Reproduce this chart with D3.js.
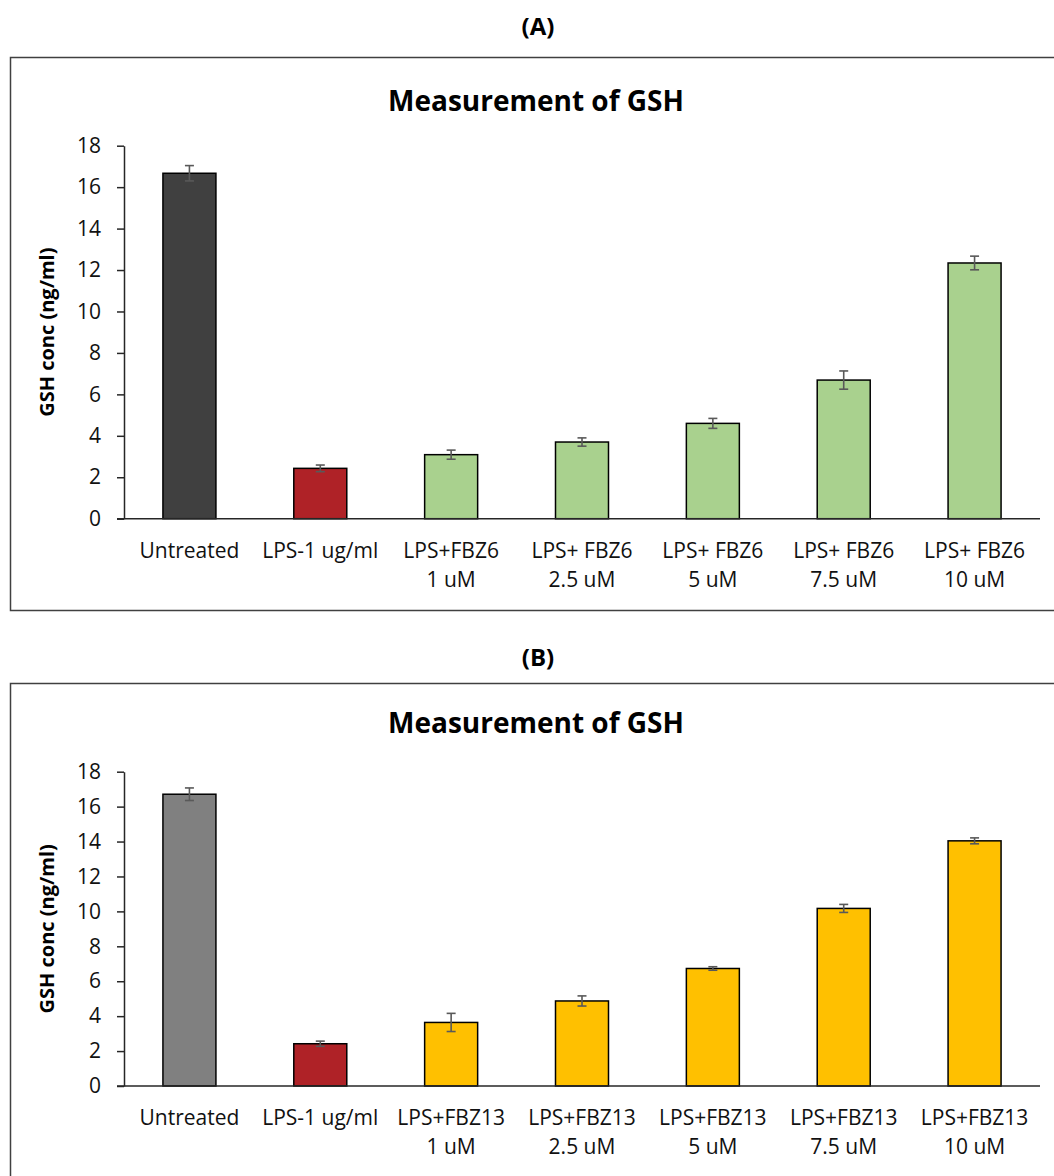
<!DOCTYPE html>
<html><head><meta charset="utf-8">
<script src="https://cdn.jsdelivr.net/npm/d3@7"></script>
<style>body{margin:0;background:#fff}svg{display:block}</style>
</head><body>
<script>
const categoriesA = ["Untreated","LPS-1 ug/ml","LPS+FBZ6\n1 uM","LPS+ FBZ6\n2.5 uM","LPS+ FBZ6\n5 uM","LPS+ FBZ6\n7.5 uM","LPS+ FBZ6\n10 uM"];
const valuesA = [16.67, 2.43, 3.09, 3.70, 4.60, 6.69, 12.34];
const errorsA = [0.37, 0.16, 0.22, 0.20, 0.24, 0.44, 0.33];
const colorsA = ["#404040","#AF2227","#A9D18E","#A9D18E","#A9D18E","#A9D18E","#A9D18E"];

const categoriesB = ["Untreated","LPS-1 ug/ml","LPS+FBZ13\n1 uM","LPS+FBZ13\n2.5 uM","LPS+FBZ13\n5 uM","LPS+FBZ13\n7.5 uM","LPS+FBZ13\n10 uM"];
const valuesB = [16.71, 2.42, 3.64, 4.87, 6.73, 10.17, 14.04];
const errorsB = [0.36, 0.15, 0.52, 0.29, 0.10, 0.23, 0.17];
const colorsB = ["#808080","#AF2227","#FFC000","#FFC000","#FFC000","#FFC000","#FFC000"];

const yTicks = [0,2,4,6,8,10,12,14,16,18];
const FONT = "'Open Sans', 'Noto Sans', sans-serif";

const svg = d3.select("body").append("svg").attr("width",1054).attr("height",1176);

function panel(o){
  const g = svg.append("g");
  g.append("text").attr("x",538).attr("y",o.labelY).attr("text-anchor","middle")
    .attr("font-family",FONT).attr("font-weight","bold").attr("font-size",24).text(o.label);
  // box (right/bottom cut off)
  g.append("path").attr("d",`M1060,${o.boxTop}H10.5V${o.boxBottom}H1060`)
    .attr("fill","none").attr("stroke","#404040").attr("stroke-width",1.5);
  g.append("text").attr("x",536).attr("y",o.titleY).attr("text-anchor","middle")
    .attr("font-family",FONT).attr("font-weight","bold").attr("font-size",28).text("Measurement of GSH");

  const x = d3.scaleBand().domain(o.cats).range([124,1040]).padding(0);
  const y = d3.scaleLinear().domain([0,18]).range([o.y0,o.y18]);
  const bw = x.bandwidth()*0.405;

  // bars
  g.selectAll("rect.bar").data(o.cats).enter().append("rect")
    .attr("x",d=>x(d)+(x.bandwidth()-bw)/2).attr("width",bw)
    .attr("y",(d,i)=>y(o.vals[i])).attr("height",(d,i)=>y(0)-y(o.vals[i]))
    .attr("fill",(d,i)=>o.cols[i]).attr("stroke","#000").attr("stroke-width",1.5);

  // error bars
  const eg = g.append("g").attr("stroke","#595959").attr("stroke-width",1.6);
  o.cats.forEach((c,i)=>{
    const cx = x(c)+x.bandwidth()/2;
    const t = y(o.vals[i]+o.errs[i]), b = y(o.vals[i]-o.errs[i]);
    eg.append("line").attr("x1",cx).attr("x2",cx).attr("y1",t).attr("y2",b);
    eg.append("line").attr("x1",cx-4.5).attr("x2",cx+4.5).attr("y1",t).attr("y2",t);
    eg.append("line").attr("x1",cx-4.5).attr("x2",cx+4.5).attr("y1",b).attr("y2",b);
  });

  // y axis
  const ya = g.append("g").attr("transform","translate(124,0)")
    .call(d3.axisLeft(y).tickValues(yTicks).tickSize(7).tickPadding(16).tickSizeOuter(0));
  ya.select(".domain").attr("stroke","#262626").attr("stroke-width",1.5);
  ya.selectAll(".tick line").attr("stroke","#262626").attr("stroke-width",1.5);
  ya.selectAll(".tick text").attr("font-family",FONT).attr("font-size",21).attr("fill","#111");

  // x axis
  const xa = g.append("g").attr("transform",`translate(0,${o.y0})`)
    .call(d3.axisBottom(x).tickSize(0).tickSizeOuter(0).tickFormat(""));
  xa.select(".domain").attr("stroke","#262626").attr("stroke-width",1.5).attr("d",`M117,0H1040`);
  o.cats.forEach(c=>{
    const lines = c.split("\n");
    const t = g.append("text").attr("text-anchor","middle").attr("font-family",FONT)
      .attr("font-size",21).attr("fill","#111");
    lines.forEach((l,k)=>t.append("tspan").attr("x",x(c)+x.bandwidth()/2)
      .attr("y",o.y0+39+k*29).text(l));
  });

  // y axis title
  g.append("text").attr("transform",`translate(54,${(o.y0+o.y18)/2}) rotate(-90)`)
    .attr("text-anchor","middle").attr("font-family",FONT).attr("font-weight","bold")
    .attr("font-size",20).text("GSH conc (ng/ml)");
}

panel({label:"(A)",labelY:35,boxTop:57.5,boxBottom:610.5,titleY:111,y0:518.7,y18:145.7,
  cats:categoriesA,vals:valuesA,errs:errorsA,cols:colorsA});
panel({label:"(B)",labelY:666,boxTop:683.5,boxBottom:1190,titleY:733,y0:1086,y18:771.7,
  cats:categoriesB,vals:valuesB,errs:errorsB,cols:colorsB});
</script>
</body></html>
